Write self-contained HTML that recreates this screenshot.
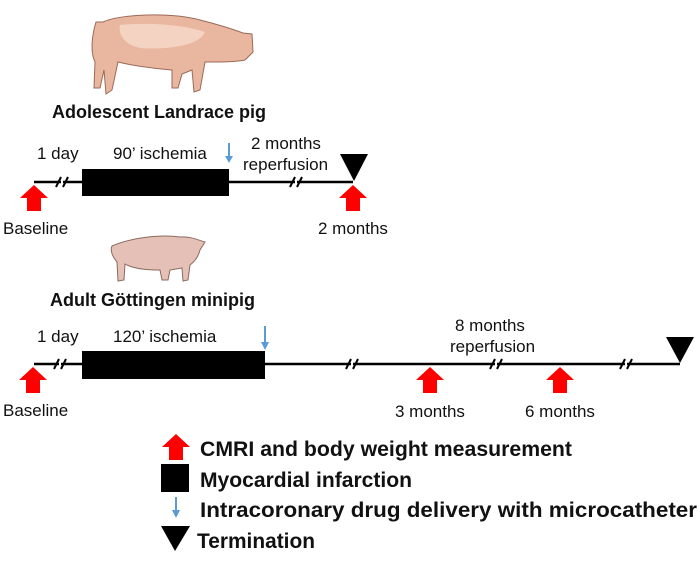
<!DOCTYPE html>
<html><head><meta charset="utf-8"><style>
body{margin:0;background:#fff}
text{font-family:"Liberation Sans",Arial,sans-serif;fill:#111}
.b{font-weight:bold;font-size:18px}
.l{font-weight:bold;font-size:21px}
.t{font-size:17px}
</style></head><body>
<svg width="700" height="561" viewBox="0 0 700 561" xmlns="http://www.w3.org/2000/svg">
<defs>
<g id="ra"><polygon points="0,0 14,13 7,13 7,26 -7,26 -7,13 -14,13" fill="#f00"/></g>
<g id="brk"><line x1="-6" y1="5" x2="-1" y2="-5" stroke="#000" stroke-width="2"/><line x1="1" y1="5" x2="6" y2="-5" stroke="#000" stroke-width="2"/><rect x="-1" y="-2" width="2" height="4" fill="#fff"/></g>
</defs>
<g>
<path d="M96,22 L103,22 C120,14 170,12 200,20 C220,25 235,30 243,33 L252,34 L253,52 L245,60 C235,62 225,62 215,62 L205,62 L200,90 L194,92 L192,70 L182,74 L178,88 L172,88 L172,70 C150,68 130,65 118,62 L112,90 L106,94 L104,70 L100,88 L94,88 L95,62 C90,52 92,35 96,22 Z" fill="#e9b7a0" stroke="#9b6a58" stroke-width="1"/>
<path d="M120,25 C150,22 185,25 205,32 C200,45 170,50 140,48 C125,45 118,35 120,25 Z" fill="#f5d3c2"/>
</g>
<text class="b" x="52" y="118">Adolescent Landrace pig</text>
<line x1="34" y1="182" x2="353" y2="182" stroke="#000" stroke-width="2.5"/>
<use href="#brk" x="62" y="182"/><use href="#brk" x="296" y="182"/>
<rect x="82" y="169" width="147" height="27" fill="#000"/>
<line x1="229" y1="143" x2="229" y2="158" stroke="#5b9bd5" stroke-width="2"/>
<polygon points="225,156 233,156 229,163" fill="#5b9bd5"/>
<polygon points="340,154 368,154 354,181" fill="#000"/>
<use href="#ra" x="34" y="185"/><use href="#ra" x="353" y="185"/>
<text class="t" x="37" y="159">1 day</text>
<text class="t" x="113" y="159">90’ ischemia</text>
<text class="t" x="251" y="149">2 months</text>
<text class="t" x="243" y="170">reperfusion</text>
<text class="t" x="3" y="234">Baseline</text>
<text class="t" x="318" y="234">2 months</text>
<path d="M112,246 C130,238 160,234 180,237 C190,236 198,240 205,242 L200,250 C198,258 194,262 190,265 L188,280 L183,281 L182,268 L170,270 L168,280 L162,280 L160,270 C145,270 132,268 125,264 L124,280 L118,281 L117,262 C112,256 110,250 112,246 Z" fill="#e4c0b6" stroke="#8a6b60" stroke-width="1"/>
<text class="b" x="50" y="306">Adult Göttingen minipig</text>
<line x1="34" y1="364" x2="680" y2="364" stroke="#000" stroke-width="2.5"/>
<use href="#brk" x="60" y="364"/><use href="#brk" x="352" y="364"/><use href="#brk" x="496" y="364"/><use href="#brk" x="626" y="364"/>
<rect x="82" y="351" width="183" height="28" fill="#000"/>
<line x1="265" y1="326" x2="265" y2="344" stroke="#5b9bd5" stroke-width="2"/>
<polygon points="261,342 269,342 265,350" fill="#5b9bd5"/>
<polygon points="666,337 694,337 680,363" fill="#000"/>
<use href="#ra" x="33" y="367"/><use href="#ra" x="430" y="367"/><use href="#ra" x="560" y="367"/>
<text class="t" x="37" y="342">1 day</text>
<text class="t" x="113" y="342">120’ ischemia</text>
<text class="t" x="455" y="331">8 months</text>
<text class="t" x="450" y="352">reperfusion</text>
<text class="t" x="3" y="416">Baseline</text>
<text class="t" x="395" y="417">3 months</text>
<text class="t" x="525" y="417">6 months</text>
<use href="#ra" x="176" y="434"/>
<text class="l" x="200" y="456" textLength="372" lengthAdjust="spacingAndGlyphs">CMRI and body weight measurement</text>
<rect x="161" y="464" width="28" height="28" fill="#000"/>
<text class="l" x="200" y="487" textLength="212" lengthAdjust="spacingAndGlyphs">Myocardial infarction</text>
<line x1="176" y1="497" x2="176" y2="512" stroke="#5b9bd5" stroke-width="2"/>
<polygon points="172,510 180,510 176,518" fill="#5b9bd5"/>
<text class="l" x="200" y="517" textLength="497" lengthAdjust="spacingAndGlyphs">Intracoronary drug delivery with microcatheter</text>
<polygon points="161,526 190,526 175,551" fill="#000"/>
<text class="l" x="197" y="548" textLength="118" lengthAdjust="spacingAndGlyphs">Termination</text>
</svg>
</body></html>
